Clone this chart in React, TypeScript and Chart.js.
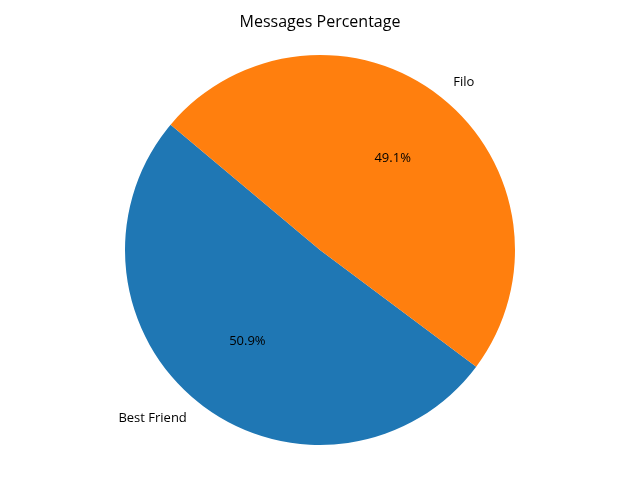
import React, { useEffect, useRef } from "react";
import { Chart, registerables } from "chart.js";

Chart.register(...registerables);

const categories = ["Best Friend", "Filo"];
const values = [50.9, 49.1];
const colors = ["#1f77b4", "#ff7f0e"];
const titleText = "Messages Percentage";
const startAngle = 140; // matplotlib-style, degrees CCW from +x

const FONT = "'Open Sans', 'Noto Sans', sans-serif";

export default function App() {
  const ref = useRef<HTMLCanvasElement | null>(null);
  useEffect(() => {
    document.body.style.margin = "0";
    const total = values.reduce((a, b) => a + b, 0);
    // Chart.js draws clockwise from top; matplotlib CCW from startAngle.
    const endMath = startAngle + (360 * values[0]) / total;
    const rotation = 90 - endMath;
    const textPlugin = {
      id: "textPlugin",
      afterDraw(chart: any) {
        const ctx = chart.ctx;
        const meta = chart.getDatasetMeta(0);
        ctx.save();
        ctx.fillStyle = "#000";
        ctx.font = `16px ${FONT}`;
        ctx.textAlign = "center";
        ctx.textBaseline = "middle";
        ctx.fillText(titleText, 320, 22);
        meta.data.forEach((arc: any, i: number) => {
          const { x, y, startAngle: sa, endAngle: ea, outerRadius } = arc.getProps(
            ["x", "y", "startAngle", "endAngle", "outerRadius"],
            true
          );
          const mid = (sa + ea) / 2;
          const lx = x + Math.cos(mid) * outerRadius * 1.1;
          const ly = y + Math.sin(mid) * outerRadius * 1.1;
          ctx.font = `13px ${FONT}`;
          ctx.textAlign = lx > x ? "left" : "right";
          ctx.textBaseline = "middle";
          ctx.fillText(categories[i], lx, ly);
          const px = x + Math.cos(mid) * outerRadius * 0.6;
          const py = y + Math.sin(mid) * outerRadius * 0.6;
          ctx.textAlign = "center";
          const pct = (values[i] / total) * 100;
          ctx.fillText(pct.toFixed(1) + "%", px, py);
        });
        ctx.restore();
      },
    };
    const chart = new Chart(ref.current!, {
      type: "pie",
      data: {
        labels: categories,
        datasets: [
          {
            data: values,
            backgroundColor: colors,
            borderWidth: 0,
          },
        ],
      },
      options: {
        responsive: false,
        animation: false,
        rotation,
        layout: { padding: { top: 55, bottom: 35, left: 0, right: 0 } },
        plugins: {
          legend: { display: false },
          tooltip: { enabled: false },
          title: { display: false },
        },
      },
      plugins: [textPlugin],
    });
    return () => chart.destroy();
  }, []);
  return (
    <div style={{ width: 640, height: 480, background: "#fff" }}>
      <canvas ref={ref} width={640} height={480} />
    </div>
  );
}
